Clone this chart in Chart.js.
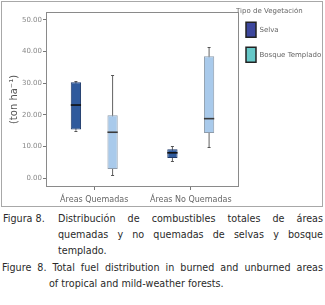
<!DOCTYPE html>
<html>
<head>
<meta charset="utf-8">
<script src="https://cdn.jsdelivr.net/npm/chart.js@4.4.0/dist/chart.umd.min.js"></script>
<style>
  body { margin: 0; background: #fff; width: 325px; height: 305px; overflow: hidden; font-family: "DejaVu Sans", sans-serif; }
  #frame { position: absolute; left: 1px; top: 1px; width: 320px; height: 204px; border: 1px solid #a8a8a8; }
  #cap { position: absolute; left: 0; top: 211px; width: 323px; font-size: 9.6px; color: #2a2a2a; line-height: 16.2px; }
  .ln { position: relative; white-space: nowrap; }
  .lab { position: absolute; left: 3px; }
  .j { display: block; white-space: normal; text-align: justify; text-align-last: justify; }
</style>
</head>
<body>
<div id="frame"><canvas id="chart" width="320" height="204"></canvas></div>
<div id="cap">
  <div class="ln"><span class="lab">Figura 8.</span><span class="j" style="margin-left:58px">Distribución de combustibles totales de áreas</span></div>
  <div class="ln"><span class="j" style="margin-left:58px">quemadas y no quemadas de selvas y bosque</span></div>
  <div class="ln"><span style="margin-left:58px">templado.</span></div>
  <div class="ln"><span class="j" style="margin-left:2px">Figure 8. Total fuel distribution in burned and unburned areas</span></div>
  <div class="ln"><span style="margin-left:49px">of tropical and mild-weather forests.</span></div>
</div>
<script>
var categories = ["Áreas Quemadas", "Áreas No Quemadas"];

// selva
var selvaMin = [15.0, 5.4];
var selvaQ1 = [15.4, 6.4];
var selvaMed = [23.1, 8.0];
var selvaQ3 = [30.3, 9.1];
var selvaMax = [30.6, 10.0];

// bosque templado
var bosqueMin = [1.0, 9.7];
var bosqueQ1 = [2.9, 14.3];
var bosqueMed = [14.5, 18.8];
var bosqueQ3 = [19.9, 38.5];
var bosqueMax = [32.6, 41.4];

var yTicks = [0, 10, 20, 30, 40, 50];
var legendNames = ["Selva", "Bosque Templado"];
var legendColors = ["#3d479d", "#66c8c8"];

function spans(lo, hi) {
  return lo.map(function (v, i) { return [v, hi[i]]; });
}

Chart.defaults.font.family = "'DejaVu Sans', sans-serif";

var boxExtras = {
  id: "boxExtras",
  afterLayout: function (chart) {
    // lift the legend so its title sits level with the plot top
    chart.legend.top -= 4.2;
    chart.legend.bottom -= 4.2;
    chart.legend.left -= 3;
  },
  afterDatasetsDraw: function (chart) {
    var ctx = chart.ctx;
    var y = chart.scales.y;
    var a = chart.chartArea;
    ctx.save();
    // whisker caps
    [[2, selvaMin, selvaMax], [3, bosqueMin, bosqueMax]].forEach(function (w) {
      chart.getDatasetMeta(w[0]).data.forEach(function (el, i) {
        ctx.strokeStyle = "#555";
        ctx.lineWidth = 1;
        [w[1][i], w[2][i]].forEach(function (v) {
          var py = Math.round(y.getPixelForValue(v)) + 0.5;
          ctx.beginPath();
          ctx.moveTo(el.x - 1.5, py);
          ctx.lineTo(el.x + 1.5, py);
          ctx.stroke();
        });
      });
    });
    // medians
    [[0, selvaMed, "#111"], [1, bosqueMed, "#3a3a3a"]].forEach(function (m) {
      chart.getDatasetMeta(m[0]).data.forEach(function (el, i) {
        var py = y.getPixelForValue(m[1][i]);
        ctx.strokeStyle = m[2];
        ctx.lineWidth = 1.6;
        ctx.beginPath();
        ctx.moveTo(el.x - el.width / 2, py);
        ctx.lineTo(el.x + el.width / 2, py);
        ctx.stroke();
      });
    });
    // plot frame
    ctx.strokeStyle = "#8a8a8a";
    ctx.lineWidth = 1;
    ctx.strokeRect(Math.round(a.left) + 0.5, Math.round(a.top) + 0.5, Math.round(a.width) - 1, Math.round(a.height) - 1);
    ctx.restore();
  }
};

new Chart(document.getElementById("chart"), {
  type: "bar",
  data: {
    labels: categories,
    datasets: [
      { label: "Selva", stack: "selva", data: spans(selvaQ1, selvaQ3), backgroundColor: "#2f5a9c", borderColor: "#1f3a6a", borderWidth: 1, borderSkipped: false, barPercentage: 0.28 },
      { label: "Bosque Templado", stack: "bosque", data: spans(bosqueQ1, bosqueQ3), backgroundColor: "#a9caeb", borderColor: "#8e9cab", borderWidth: 1, borderSkipped: false, barPercentage: 0.28 },
      { label: "selva-w", stack: "selva", data: spans(selvaMin, selvaMax), backgroundColor: "#666", barPercentage: 0.028 },
      { label: "bosque-w", stack: "bosque", data: spans(bosqueMin, bosqueMax), backgroundColor: "#666", barPercentage: 0.028 }
    ]
  },
  options: {
    responsive: false,
    animation: false,
    categoryPercentage: 0.76,
    layout: { padding: { top: 10, right: 0, bottom: 0, left: 0 } },
    scales: {
      x: {
        stacked: true,
        border: { display: false },
        grid: { offset: false, drawOnChartArea: false, tickLength: 3, color: "#777" },
        ticks: { color: "#666", font: { size: 8 }, padding: 5 },
        afterFit: function (s) { s.height = 19; }
      },
      y: {
        stacked: false,
        min: -2.8,
        max: 52.5,
        border: { display: false },
        grid: { drawOnChartArea: false, tickLength: 3, color: "#777" },
        afterBuildTicks: function (s) { s.ticks = yTicks.map(function (v) { return { value: v }; }); },
        ticks: { color: "#888", font: { size: 7 }, padding: 1, callback: function (v) { return Number(v).toFixed(2); } },
        title: { display: true, text: "(ton ha⁻¹)", color: "#555", font: { size: 10 }, padding: 6 },
        afterFit: function (s) { s.width = 44; }
      }
    },
    plugins: {
      tooltip: { enabled: false },
      legend: {
        position: "right",
        align: "start",
        maxWidth: 83,
        title: { display: true, text: "Tipo de Vegetación", color: "#666", font: { size: 7 }, padding: { top: 0, bottom: -4 }, position: "start" },
        labels: {
          boxWidth: 10,
          boxHeight: 15,
          padding: 10,
          color: "#666",
          font: { size: 7 },
          generateLabels: function () {
            return legendNames.map(function (n, i) {
              return { text: n, fillStyle: legendColors[i], strokeStyle: "#222", lineWidth: 1.5, datasetIndex: i, hidden: false };
            });
          }
        }
      }
    }
  },
  plugins: [boxExtras]
});
</script>
</body>
</html>
